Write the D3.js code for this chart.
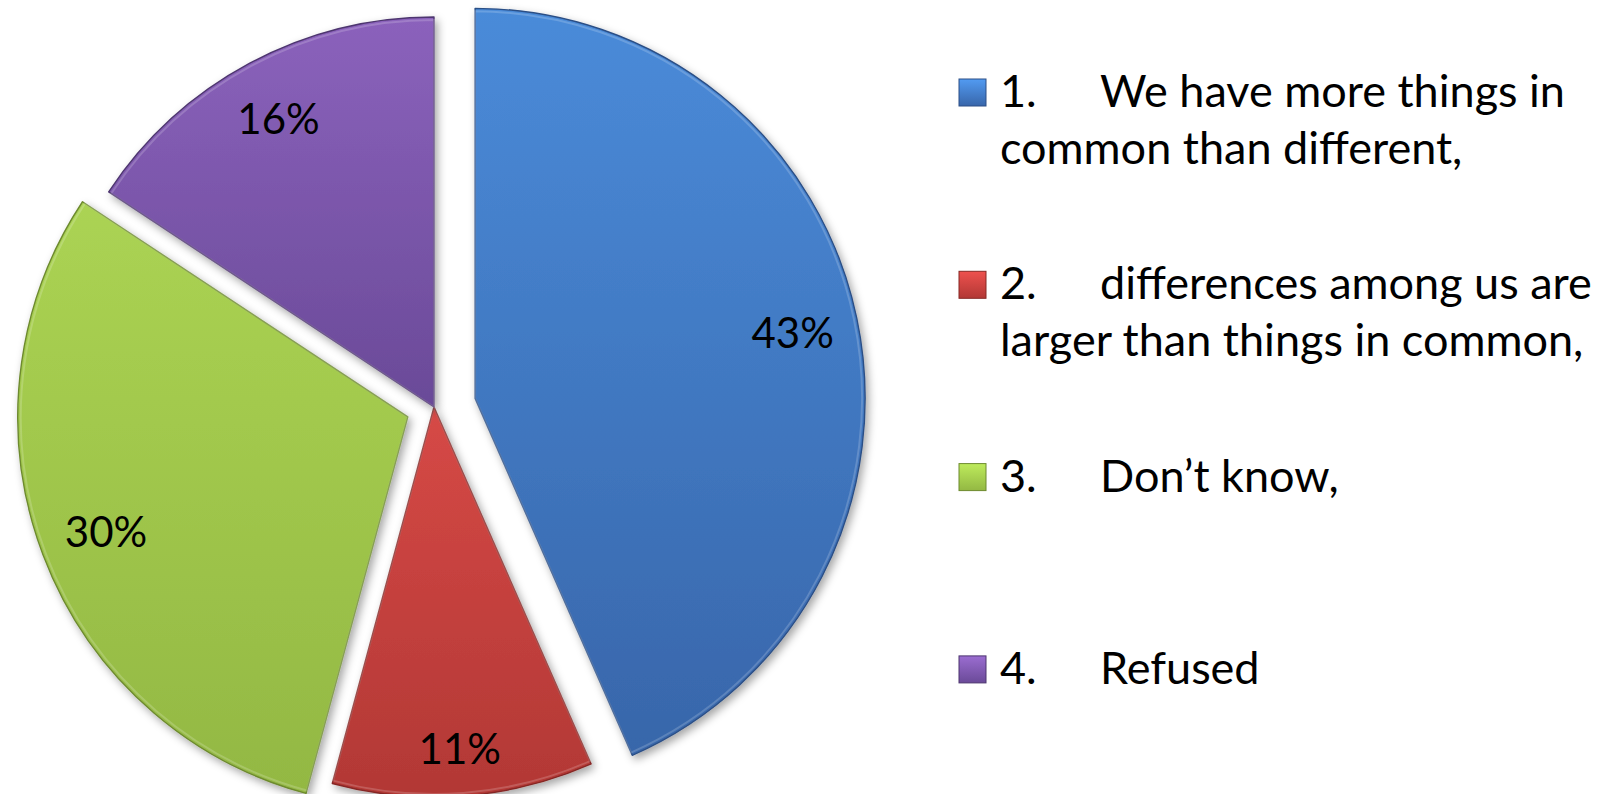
<!DOCTYPE html>
<html>
<head>
<meta charset="utf-8">
<script src="https://cdn.jsdelivr.net/npm/d3@7"></script>
<style>
  html, body { margin: 0; padding: 0; background: #ffffff; }
  svg { display: block; }
  text { font-family: Lato, "Open Sans", "Liberation Sans", sans-serif; fill: #000; }
</style>
</head>
<body>
<svg id="chart" width="1610" height="794"></svg>
<script>
// ---- data ----
const categories = ["1.", "2.", "3.", "4."];
const legendLines = [
  ["We have more things in", "common than different,"],
  ["differences among us are", "larger than things in common,"],
  ["Don\u2019t know,"],
  ["Refused"]
];
const values = [43.4, 10.8, 30.1, 15.7];

// ---- style ----
const colorsTop = ["#4a8bd9", "#d64946", "#abd353", "#8b62bc"];
const colorsBottom = ["#3866aa", "#b23835", "#93b843", "#6a4a98"];
const edgeColors = ["#2c4f86", "#862825", "#6d8a2e", "#4d356f"];
const explode = [42, 0, 28, 0];

const W = 1610, H = 794;
const cx = 434, cy = 407, R = 390;

const svg = d3.select("#chart");
const defs = svg.append("defs");

const shadow = defs.append("filter").attr("id", "shadow")
  .attr("x", "-10%").attr("y", "-10%").attr("width", "130%").attr("height", "130%");
shadow.append("feDropShadow").attr("dx", 3).attr("dy", 4)
  .attr("stdDeviation", 4).attr("flood-color", "#000").attr("flood-opacity", 0.35);

colorsTop.forEach((c, i) => {
  const g = defs.append("linearGradient").attr("id", "grad" + i)
    .attr("x1", 0).attr("y1", 0).attr("x2", 0).attr("y2", 1);
  g.append("stop").attr("offset", "0%").attr("stop-color", c);
  g.append("stop").attr("offset", "100%").attr("stop-color", colorsBottom[i]);
  const gs = defs.append("linearGradient").attr("id", "lgrad" + i)
    .attr("x1", 0).attr("y1", 0).attr("x2", 0).attr("y2", 1);
  gs.append("stop").attr("offset", "0%").attr("stop-color", d3.color(c).brighter(0.3));
  gs.append("stop").attr("offset", "100%").attr("stop-color", colorsBottom[i]);
});

const pie = d3.pie().sort(null).value(d => d)(values);
const arc = d3.arc().innerRadius(0).outerRadius(R);

const gPie = svg.append("g").attr("transform", `translate(${cx},${cy})`);

const slices = gPie.selectAll("g.slice").data(pie).enter().append("g")
  .attr("class", "slice")
  .attr("transform", (d, i) => {
    const a = (d.startAngle + d.endAngle) / 2;
    return `translate(${explode[i] * Math.sin(a)},${-explode[i] * Math.cos(a)})`;
  });

slices.append("path")
  .attr("d", arc)
  .attr("fill", (d, i) => `url(#grad${i})`)
  .attr("stroke", (d, i) => edgeColors[i])
  .attr("stroke-width", 1.4)
  .attr("stroke-linejoin", "round")
  .attr("filter", "url(#shadow)");

// subtle inner highlight (bevel)
const arcInner = d3.arc().innerRadius(0).outerRadius(R - 3);
slices.append("path")
  .attr("d", arcInner)
  .attr("fill", "none")
  .attr("stroke", "rgba(255,255,255,0.18)")
  .attr("stroke-width", 2);

// labels: inside end placement
const pad = 20;
slices.each(function(d, i) {
  const g = d3.select(this);
  const t = g.append("text")
    .attr("text-anchor", "middle")
    .attr("dominant-baseline", "central")
    .style("font-size", "42px")
    .text(Math.round(d.data) + "%");
  const bb = t.node().getBBox();
  const a = (d.startAngle + d.endAngle) / 2;
  const ux = Math.sin(a), uy = -Math.cos(a);
  const hw = bb.width / 2, hh = bb.height / 2;
  const dist = R - pad - (hw * Math.abs(ux) + hh * Math.abs(uy));
  t.attr("x", dist * ux).attr("y", dist * uy);
});

// ---- legend ----
const legX = 959, numX = 1000, txtX = 1100;
const firstBase = 107, itemStep = 192.3, lineStep = 57;
const fontSize = 45, mk = 27;

const leg = svg.append("g");
categories.forEach((c, i) => {
  const base = firstBase + i * itemStep;
  leg.append("rect")
    .attr("x", legX).attr("y", base - mk - 1).attr("width", mk).attr("height", mk)
    .attr("fill", `url(#lgrad${i})`)
    .attr("stroke", edgeColors[i]).attr("stroke-width", 1);
  leg.append("text").attr("x", numX).attr("y", base)
    .style("font-size", fontSize + "px").text(c);
  legendLines[i].forEach((ln, j) => {
    leg.append("text")
      .attr("x", j === 0 ? txtX : numX)
      .attr("y", base + j * lineStep)
      .style("font-size", fontSize + "px")
      .text(ln);
  });
});
</script>
</body>
</html>
